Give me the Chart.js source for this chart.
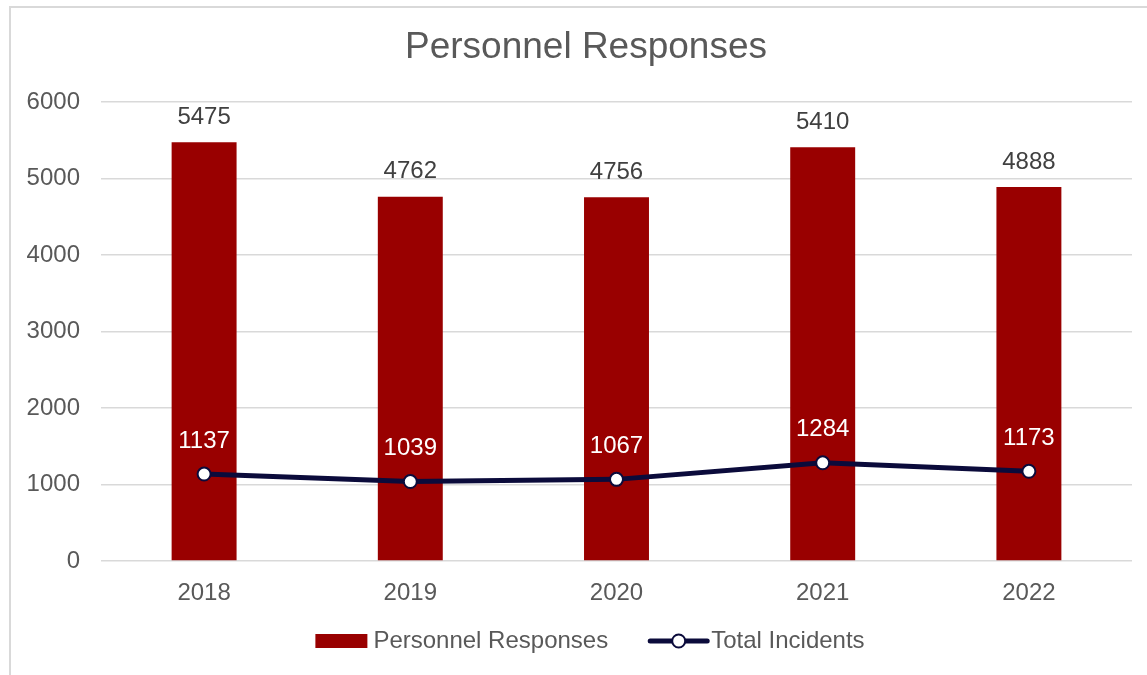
<!DOCTYPE html>
<html lang="en">
<head>
  <meta charset="UTF-8">
  <title>Personnel Responses</title>
  <style>
    body {
      margin: 0;
      padding: 0;
      background: #fff;
    }
    .chart-container {
      position: relative;
      width: 1147px;
      height: 675px;
    }
  </style>
  <script src="https://cdn.jsdelivr.net/npm/chart.js"></script>
</head>
<body>
  <div class="chart-container">
    <canvas id="personnelChart" width="1147" height="675"></canvas>
  </div>

  <script>
    const years = ['2018', '2019', '2020', '2021', '2022'];
    const personnelResponses = [5475, 4762, 4756, 5410, 4888];
    const totalIncidents = [1137, 1039, 1067, 1284, 1173];
    const yTicks = [0, 1000, 2000, 3000, 4000, 5000, 6000];

    const FONT = "'Liberation Sans', Arial, sans-serif";
    const TEXT = '#595959';
    const RED = '#990000';
    const NAVY = '#0b0b3b';

    // card border, title, value labels and legend
    const decor = {
      id: 'decor',
      beforeDraw(chart) {
        const ctx = chart.ctx;
        ctx.save();
        ctx.fillStyle = '#fff';
        ctx.fillRect(0, 0, chart.width, chart.height);
        ctx.strokeStyle = '#d9d9d9';
        ctx.lineWidth = 2;
        ctx.strokeRect(10, 7, 1200, 700);
        ctx.restore();
      },
      afterDatasetsDraw(chart) {
        const ctx = chart.ctx;
        ctx.save();
        ctx.textAlign = 'center';
        ctx.textBaseline = 'middle';
        ctx.font = '24px ' + FONT;

        chart.getDatasetMeta(0).data.forEach((bar, i) => {
          ctx.fillStyle = '#404040';
          ctx.fillText(personnelResponses[i], bar.x, bar.y - 25);
        });
        chart.getDatasetMeta(1).data.forEach((pt, i) => {
          ctx.fillStyle = '#fff';
          ctx.fillText(totalIncidents[i], pt.x, pt.y - 33);
        });

        // title
        ctx.fillStyle = TEXT;
        ctx.font = '37px ' + FONT;
        ctx.fillText('Personnel Responses', 586, 48);

        // legend
        ctx.font = '24px ' + FONT;
        const l1 = 'Personnel Responses';
        const l2 = 'Total Incidents';
        const w1 = ctx.measureText(l1).width;
        const w2 = ctx.measureText(l2).width;
        const total = 52 + 6 + w1 + 42 + 57 + 4 + w2;
        let x = 590 - total / 2;
        const y = 641;
        ctx.fillStyle = RED;
        ctx.fillRect(x, y - 7, 52, 14);
        x += 58;
        ctx.fillStyle = TEXT;
        ctx.textAlign = 'left';
        ctx.fillText(l1, x, y);
        x += w1 + 42;
        ctx.strokeStyle = NAVY;
        ctx.lineWidth = 5;
        ctx.lineCap = 'round';
        ctx.beginPath();
        ctx.moveTo(x, y);
        ctx.lineTo(x + 57, y);
        ctx.stroke();
        ctx.beginPath();
        ctx.arc(x + 28.5, y, 6.5, 0, Math.PI * 2);
        ctx.fillStyle = '#fff';
        ctx.fill();
        ctx.lineWidth = 2;
        ctx.stroke();
        x += 61;
        ctx.fillStyle = TEXT;
        ctx.fillText(l2, x, y);
        ctx.restore();
      }
    };

    const ctx = document.getElementById('personnelChart').getContext('2d');
    const personnelChart = new Chart(ctx, {
      data: {
        labels: years,
        datasets: [{
          type: 'bar',
          label: 'Personnel Responses',
          data: personnelResponses,
          backgroundColor: RED,
          categoryPercentage: 1,
          barPercentage: 0.315,
          order: 2
        }, {
          type: 'line',
          label: 'Total Incidents',
          data: totalIncidents,
          borderColor: NAVY,
          borderWidth: 5,
          pointRadius: 6.5,
          pointBackgroundColor: '#fff',
          pointBorderColor: NAVY,
          pointBorderWidth: 2,
          tension: 0,
          order: 1
        }]
      },
      options: {
        responsive: false,
        animation: false,
        layout: {
          padding: { top: 102, right: 15, left: 0, bottom: 0 }
        },
        scales: {
          x: {
            grid: { display: false, drawTicks: false },
            border: { display: false },
            ticks: {
              color: TEXT,
              font: { family: FONT, size: 24 },
              padding: 18
            },
            afterFit: (s) => { s.height = 114; }
          },
          y: {
            min: 0,
            max: 6000,
            afterBuildTicks: (s) => { s.ticks = yTicks.map(v => ({ value: v })); },
            grid: { color: '#d9d9d9', lineWidth: 1.5, drawTicks: false },
            border: { display: false },
            ticks: {
              color: TEXT,
              font: { family: FONT, size: 24 },
              padding: 21,
              callback: (v) => String(v)
            },
            afterFit: (s) => { s.width = 101; }
          }
        },
        plugins: {
          legend: { display: false },
          title: { display: false },
          tooltip: { enabled: false }
        }
      },
      plugins: [decor]
    });
  </script>
</body>
</html>
